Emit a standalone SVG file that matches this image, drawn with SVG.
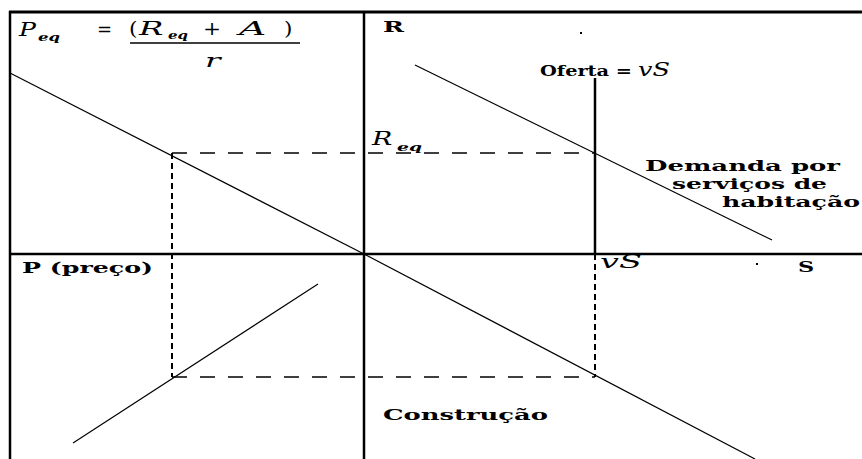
<svg xmlns="http://www.w3.org/2000/svg" width="862" height="459" viewBox="0 0 862 459">
<style>
.lbl{font-family:"DejaVu Serif","Liberation Serif",serif;font-weight:bold;font-size:14px;fill:#000}
.math{font-family:"DejaVu Serif","Liberation Serif",serif;font-style:italic;font-size:18px;fill:#000}
.up{font-style:normal}
.sub{font-size:11px;font-weight:bold}
.axis{stroke:#000;stroke-width:2.5;fill:none}
.curve{stroke:#000;stroke-width:1.2;fill:none}
.dash{stroke:#000;stroke-width:1.5;fill:none;stroke-dasharray:15 13}
.vdash{stroke:#000;stroke-width:2;fill:none;stroke-dasharray:6 4}
</style>
<rect width="862" height="459" fill="#fff"/>
<g id="frame">
<line x1="9" y1="12" x2="862" y2="12" stroke="#000" stroke-width="3"/>
<line x1="10" y1="11" x2="10" y2="459" stroke="#000" stroke-width="2.5"/>
</g>
<g id="connectors">
<line id="axis-v" class="axis" x1="364" y1="12" x2="364" y2="459"/>
<line id="axis-h" class="axis" x1="10" y1="254" x2="862" y2="254" stroke-width="2"/>
<line id="demand-upper" class="curve" x1="415" y1="65" x2="772" y2="240"/>
<line id="demand-left" class="curve" x1="10" y1="73" x2="364" y2="254"/>
<line id="construction" class="curve" x1="364" y1="254" x2="755" y2="459"/>
<line id="price-line" class="curve" x1="73" y1="443" x2="318" y2="284"/>
<line id="supply" class="axis" x1="595" y1="78" x2="595" y2="254" stroke-width="2"/>
<line id="req-dash" class="dash" x1="172" y1="153" x2="595" y2="153"/>
<line id="bottom-dash" class="dash" x1="172" y1="377" x2="595" y2="377"/>
<line id="left-vdash" class="vdash" x1="172" y1="153" x2="172" y2="377"/>
<line id="right-vdash" class="vdash" x1="595" y1="254" x2="595" y2="377"/>
<rect x="580" y="32" width="2" height="2" fill="#000"/>
<rect x="756" y="263" width="2" height="2" fill="#000"/>
</g>
<g id="formula">
<text class="math" transform="translate(19,36) scale(1.4,1)">P</text>
<text class="math sub" x="38" y="41" textLength="22" lengthAdjust="spacingAndGlyphs">eq</text>
<text class="math up" transform="translate(97,36) scale(1.0,1)">=</text>
<text class="math up" transform="translate(129,35) scale(1.2,1)">(</text>
<text class="math" transform="translate(139,35) scale(1.8,1)">R</text>
<text class="math sub" x="168" y="39" textLength="20" lengthAdjust="spacingAndGlyphs">eq</text>
<text class="math up" transform="translate(203,35) scale(1.2,1)">+</text>
<text class="math" transform="translate(239,35) scale(2.1,1)">A</text>
<text class="math up" transform="translate(284,35) scale(1.2,1)">)</text>
<line x1="130" y1="43" x2="300" y2="43" stroke="#000" stroke-width="1.3"/>
<text class="math" transform="translate(205,67) scale(1.8,1)">r</text>
</g>
<g id="label-R"><text class="lbl" transform="translate(383,32) scale(1.8,1)" font-size="15">R</text></g>
<g id="label-oferta"><text class="lbl" x="540" y="76" textLength="92" lengthAdjust="spacingAndGlyphs">Oferta =</text><text class="math" x="638" y="76" textLength="32" lengthAdjust="spacingAndGlyphs">vS</text></g>
<g id="label-req"><text class="math" transform="translate(372,145) scale(1.5,1)">R</text><text class="math sub" x="397" y="151" textLength="25" lengthAdjust="spacingAndGlyphs">eq</text></g>
<g id="label-demanda">
<text class="lbl" x="645" y="171" textLength="195" lengthAdjust="spacingAndGlyphs">Demanda por</text>
<text class="lbl" x="672" y="189" textLength="155" lengthAdjust="spacingAndGlyphs">serviços de</text>
<text class="lbl" x="722" y="207" textLength="138" lengthAdjust="spacingAndGlyphs">habitação</text>
</g>
<g id="label-P"><text class="lbl" x="22" y="273" textLength="131" lengthAdjust="spacingAndGlyphs">P (preço)</text></g>
<g id="label-vS"><text class="math" x="600" y="268" textLength="42" lengthAdjust="spacingAndGlyphs">vS</text></g>
<g id="label-S"><text class="lbl" transform="translate(798,272) scale(1.6,1)">S</text></g>
<g id="label-construcao"><text class="lbl" x="383" y="420" textLength="165" lengthAdjust="spacingAndGlyphs">Construção</text></g>
</svg>
